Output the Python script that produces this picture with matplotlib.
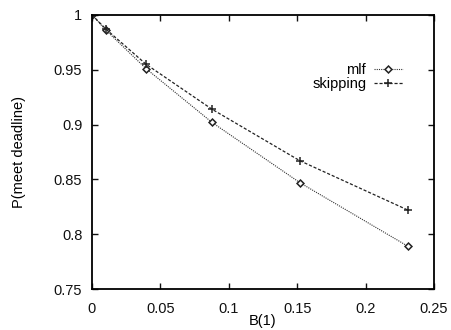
import matplotlib
matplotlib.use('Agg')
import matplotlib.pyplot as plt

# --- data ---
b1 = [0.0, 0.0102, 0.0395, 0.0877, 0.152, 0.231]
mlf = [1.0, 0.986, 0.951, 0.902, 0.847, 0.789]
skipping = [1.0, 0.987, 0.955, 0.914, 0.867, 0.822]

plt.rcParams['font.family'] = ['Liberation Sans', 'DejaVu Sans']

fig = plt.figure(figsize=(4.52, 3.30), dpi=100)
ax = fig.add_axes([0.2035, 0.124, 0.7565, 0.831])

ax.plot(b1, mlf, color='#333333', linestyle=(0, (1, 1)), linewidth=0.8,
        marker='D', markersize=3.5, markerfacecolor='white',
        markeredgecolor='#222222', markeredgewidth=1.1, label='mlf')
ax.plot(b1, skipping, color='#222222', linestyle=(0, (2.5, 1.5)), linewidth=0.9,
        marker='+', markersize=6, markeredgewidth=1.1, label='skipping')

ax.set_xlim(0, 0.25)
ax.set_ylim(0.75, 1.0)
ax.set_xticks([0, 0.05, 0.1, 0.15, 0.2, 0.25])
ax.set_xticklabels(['0', '0.05', '0.1', '0.15', '0.2', '0.25'])
ax.set_yticks([0.75, 0.8, 0.85, 0.9, 0.95, 1.0])
ax.set_yticklabels(['0.75', '0.8', '0.85', '0.9', '0.95', '1'])
ax.tick_params(direction='in', top=True, right=True, length=4, width=1,
               labelsize=10.5, colors='#111111')
ax.tick_params(axis='x', pad=9)
ax.tick_params(axis='y', pad=7)
for s in ax.spines.values():
    s.set_linewidth(1.3)

ax.set_xlabel('B(1)', fontsize=10.5, labelpad=-1)
ax.set_ylabel('P(meet deadline)', fontsize=10.5, labelpad=20)

ax.legend(loc='upper right', bbox_to_anchor=(0.93, 0.85), frameon=False,
          fontsize=10.5, markerfirst=False, handlelength=1.95,
          handletextpad=0.55, labelspacing=0.0, borderpad=0)

fig.savefig('out.png', dpi=100)
